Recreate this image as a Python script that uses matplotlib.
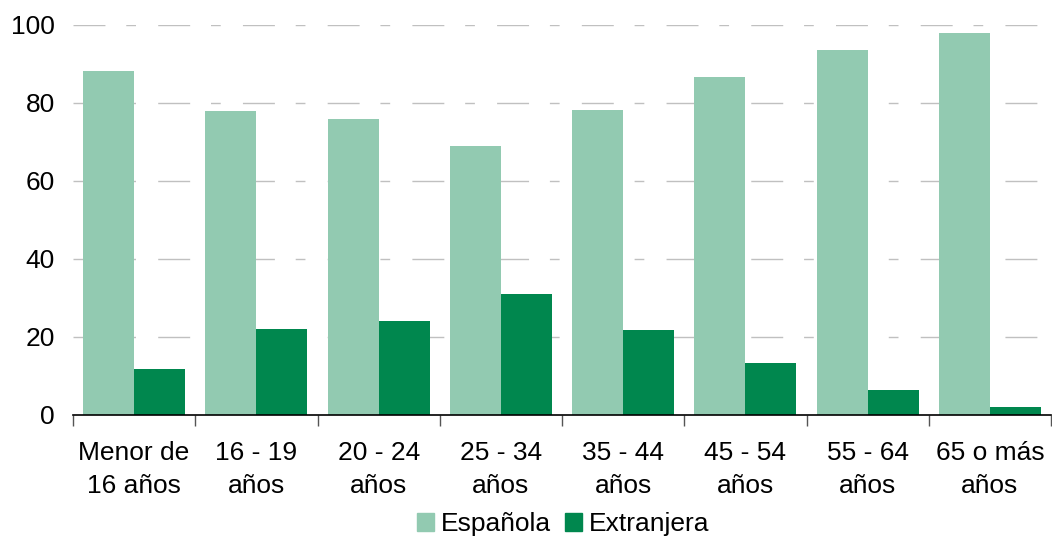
import matplotlib
matplotlib.use("Agg")
import matplotlib.pyplot as plt
import numpy as np
from matplotlib.patches import Patch

categories = ["Menor de\n16 años", "16 - 19\naños", "20 - 24\naños", "25 - 34\naños",
              "35 - 44\naños", "45 - 54\naños", "55 - 64\naños", "65 o más\naños"]
espanola = [88.1, 77.9, 75.8, 69.1, 78.1, 86.6, 93.5, 97.9]
extranjera = [11.9, 22.1, 24.2, 30.9, 21.9, 13.4, 6.5, 2.1]
yticks = [0, 20, 40, 60, 80, 100]

c_esp = "#92cab1"
c_ext = "#00874e"

plt.rcParams["font.family"] = ["Liberation Sans", "DejaVu Sans"]
fs = 19

fig = plt.figure(figsize=(10.52, 5.38), dpi=100)
ax = fig.add_axes([73 / 1052, 1 - 415 / 538, (1051 - 73) / 1052, (415 - 25) / 538])

x = np.arange(len(categories))
w = 0.417
ax.bar(x - w / 2, espanola, width=w, color=c_esp, zorder=2)
ax.bar(x + w / 2, extranjera, width=w, color=c_ext, zorder=2)

ax.set_xlim(-0.5, len(categories) - 0.5)
ax.set_ylim(0, 100)
ax.set_yticks(yticks)
ax.set_yticklabels([str(v) for v in yticks], fontsize=fs)
ax.tick_params(axis="y", length=0, pad=13)

ax.set_xticks(x)
ax.set_xticklabels(categories, fontsize=fs, linespacing=1.45)
ax.tick_params(axis="x", length=0, pad=19)
ax.set_xticks(np.arange(-0.5, len(categories)), minor=True)
ax.tick_params(axis="x", which="minor", length=8, width=1, color="#555555")

for v in yticks[1:]:
    ax.axhline(v, color="#c0c0c0", lw=1, dashes=(23, 15, 7, 16), zorder=1)

for s in ["top", "right", "left"]:
    ax.spines[s].set_visible(False)
ax.spines["bottom"].set_color("black")
ax.spines["bottom"].set_linewidth(1.2)
ax.spines["bottom"].set_zorder(3)

handles = [Patch(color=c_esp, label="Española"), Patch(color=c_ext, label="Extranjera")]
fig.legend(handles=handles, loc="center", bbox_to_anchor=(563 / 1052, 1 - 524 / 538),
           ncol=2, frameon=False, fontsize=fs, handlelength=0.65, handleheight=0.65,
           handletextpad=0.25, columnspacing=0.55, borderpad=0)

fig.savefig("out.png", dpi=100)
